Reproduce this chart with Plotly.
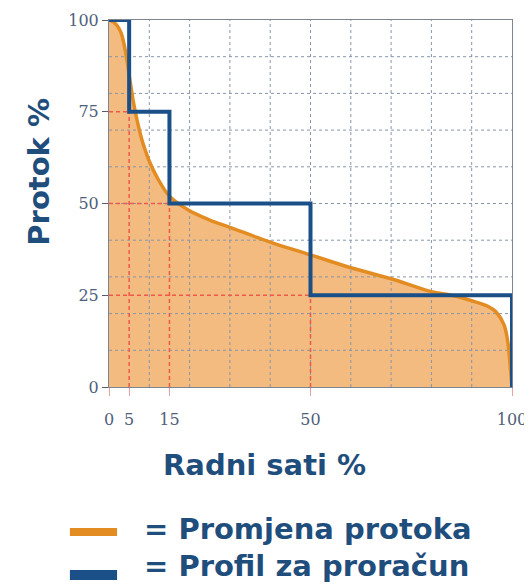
import numpy as np
import plotly.graph_objects as go

# flow duration curve (orange)
hours_pct = [0, 1, 2, 3, 4, 5, 6, 7, 8, 9, 10, 12, 15, 20, 25, 30, 40, 50,
             60, 70, 80, 85, 90, 94, 96, 98, 99, 99.6, 100]
flow_pct = [100, 99.5, 98.5, 96.5, 92, 85, 78, 72.5, 68, 64.5, 61.5, 57, 52, 48,
            45.5, 43.5, 39.5, 36, 32.5, 29.5, 26, 25, 23.5, 22, 20.5, 17, 12, 5, 0]

# design profile (blue steps)
step_x = [0, 5, 5, 15, 15, 50, 50, 100, 100]
step_y = [100, 100, 75, 75, 50, 50, 25, 25, 0]

# corners projected to the axes (red dashed)
corner_x = [5, 15, 50]
corner_y = [75, 50, 25]

x_ticks = [0, 5, 15, 50, 100]
y_ticks = [0, 25, 50, 75, 100]

title_col = "#1f4e7d"
tick_col = "#4f607a"
grid_col = "#8795aa"

fig = go.Figure()

fig.add_trace(go.Scatter(x=hours_pct, y=flow_pct, mode="lines", line=dict(width=0, shape="spline"),
                         fill="tozeroy", fillcolor="#f3bb80", hoverinfo="skip"))

# grid drawn as traces so it shows on top of the fill
gx, gy = [], []
for v in np.arange(10, 100, 10):
    gx += [v, v, None]
    gy += [0, 100, None]
    gx += [0, 100, None]
    gy += [v, v, None]
fig.add_trace(go.Scatter(x=gx, y=gy, mode="lines", line=dict(color=grid_col, width=1, dash="3px,3px"),
                         hoverinfo="skip"))

fig.add_trace(go.Scatter(x=hours_pct, y=flow_pct, mode="lines",
                         line=dict(color="#e38c22", width=3.5, shape="spline"), hoverinfo="skip"))

rx, ry = [], []
for cx, cy in zip(corner_x, corner_y):
    rx += [cx, cx, None, 0, cx, None]
    ry += [0, cy, None, cy, cy, None]
fig.add_trace(go.Scatter(x=rx, y=ry, mode="lines", line=dict(color="#ee5a4a", width=1.5, dash="4px,3px"),
                         hoverinfo="skip"))

fig.add_trace(go.Scatter(x=step_x, y=step_y, mode="lines", line=dict(color="#1b4f87", width=4),
                         cliponaxis=False, hoverinfo="skip"))

# page body has an 8px margin, so the figure is a bit smaller than the window
fig.update_layout(
    width=524, height=576,
    margin=dict(l=101, r=20, t=12, b=197),
    paper_bgcolor="white", plot_bgcolor="white",
    showlegend=False,
    xaxis=dict(range=[0, 100], tickvals=x_ticks, showgrid=False, zeroline=False, automargin=False,
               showline=True, linecolor="#7d8590", linewidth=1, mirror=True,
               ticks="outside", ticklen=8, tickcolor="#e9a0a0",
               ticklabelstandoff=10,
               tickfont=dict(family="DejaVu Serif", size=16, color=tick_col)),
    yaxis=dict(range=[0, 100], tickvals=y_ticks, showgrid=False, zeroline=False, automargin=False,
               showline=True, linecolor="#7d8590", linewidth=1, mirror=True,
               ticks="outside", ticklen=6, tickcolor="#555c66",
               tickfont=dict(family="DejaVu Serif", size=16, color=tick_col)),
)

bold = dict(family="DejaVu Sans", size=29, color=title_col, weight="bold")

fig.add_annotation(text="Protok %", xref="paper", yref="paper", x=-0.176, y=0.587,
                   xanchor="center", yanchor="middle", textangle=-90, showarrow=False, font=bold)
fig.add_annotation(text="Radni sati %", xref="paper", yref="paper", x=0.387, y=-0.212,
                   xanchor="center", yanchor="middle", showarrow=False, font=bold)

# legend drawn by hand
legend_items = [("= Promjena protoka", "#e38c22", 8, -0.395, -0.387),
                ("= Profil za proračun", "#1b4f87", 10, -0.512, -0.488)]
for label, col, lw, ybar, ytxt in legend_items:
    fig.add_shape(type="line", xref="paper", yref="paper", x0=-0.097, x1=0.02, y0=ybar, y1=ybar,
                  line=dict(color=col, width=lw))
    fig.add_annotation(text=label, xref="paper", yref="paper", x=0.082, y=ytxt,
                       xanchor="left", yanchor="middle", showarrow=False, font=bold)

fig.write_html("out.html")
